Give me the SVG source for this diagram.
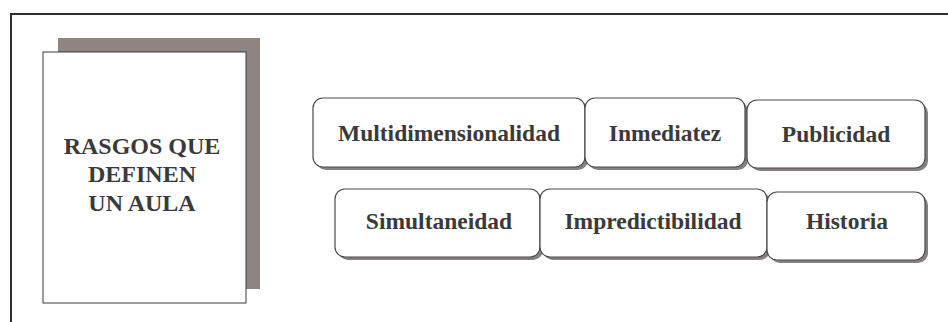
<svg xmlns="http://www.w3.org/2000/svg" width="948" height="322" viewBox="0 0 948 322">
<defs>
<style>
.frame{fill:none;stroke:#2e2e2e;stroke-width:2}
.title{font-family:"Liberation Serif","Times New Roman",serif;font-weight:bold;font-size:24px;fill:#3a3a3a;text-anchor:middle}
.lbl{font-family:"Liberation Serif","Times New Roman",serif;font-weight:bold;font-size:23.5px;fill:#3a3a3a;text-anchor:middle}
.box{fill:#ffffff;stroke:#4a4a4a;stroke-width:1.2}
.shadow{fill:#858080}
</style>
</defs>
<rect width="948" height="322" fill="#ffffff"/>
<g id="frame">
<path class="frame" d="M11,322 L11,14 L948,14"/>
</g>
<g id="main">
<rect x="58" y="38" width="202" height="251" fill="#8c8582"/>
<rect x="43" y="52" width="203" height="251" fill="#ffffff" stroke="#3a3a3a" stroke-width="1"/>
<text class="title" x="142" y="154">RASGOS QUE</text>
<text class="title" x="142" y="182">DEFINEN</text>
<text class="title" x="142" y="211">UN AULA</text>
</g>
<g id="multidimensionalidad">
<rect class="shadow" x="316" y="101" width="272" height="69" rx="10"/>
<rect class="box" x="313" y="98" width="272" height="69" rx="10"/>
<text class="lbl" x="449" y="141">Multidimensionalidad</text>
</g>
<g id="inmediatez">
<rect class="shadow" x="588" y="101" width="160" height="69" rx="10"/>
<rect class="box" x="585" y="98" width="160" height="69" rx="10"/>
<text class="lbl" x="665" y="141">Inmediatez</text>
</g>
<g id="publicidad">
<rect class="shadow" x="750" y="103" width="178" height="68" rx="10"/>
<rect class="box" x="747" y="100" width="178" height="68" rx="10"/>
<text class="lbl" x="836" y="142">Publicidad</text>
</g>
<g id="simultaneidad">
<rect class="shadow" x="338" y="192" width="205" height="68" rx="10"/>
<rect class="box" x="335" y="189" width="205" height="68" rx="10"/>
<text class="lbl" x="439" y="229">Simultaneidad</text>
</g>
<g id="impredictibilidad">
<rect class="shadow" x="543" y="192" width="227" height="68" rx="10"/>
<rect class="box" x="540" y="189" width="227" height="68" rx="10"/>
<text class="lbl" x="653" y="229">Impredictibilidad</text>
</g>
<g id="historia">
<rect class="shadow" x="770" y="195" width="158" height="68" rx="10"/>
<rect class="box" x="767" y="192" width="158" height="68" rx="10"/>
<text class="lbl" x="847" y="229">Historia</text>
</g>
<g id="connectors"></g>
</svg>
